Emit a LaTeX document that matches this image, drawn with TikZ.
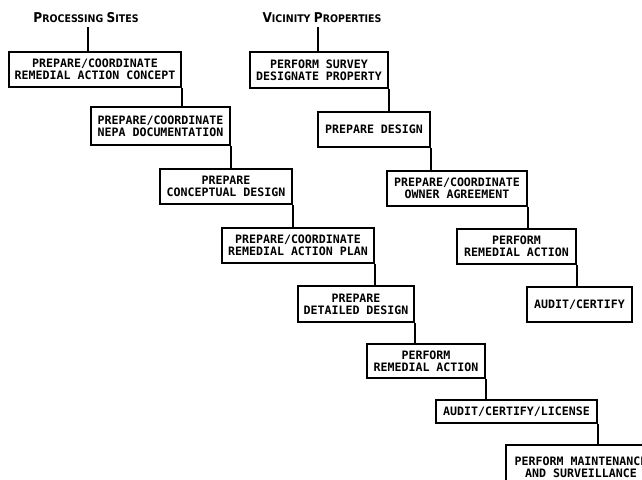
\documentclass[tikz,border=0pt]{standalone}
\usepackage{fontspec}
\setmainfont{DejaVu Sans Mono}
\newfontfamily\hdfont{DejaVu Sans Condensed}
\newcommand{\bigc}[1]{{\fontsize{13.5}{15}\selectfont #1}}
\begin{document}
\begin{tikzpicture}[x=1pt,y=-1pt,
  box/.style={draw,line width=1.5pt,rectangle,align=center,inner sep=0pt,
    font=\fontsize{11.6}{12}\selectfont\bfseries},
  hd/.style={font=\hdfont\bfseries\fontsize{10.5}{12}\selectfont,inner sep=1pt},
  conn/.style={line width=1.7pt}]
\useasboundingbox (0,0) rectangle (642,479);
\fill[white] (0,0) rectangle (642,479);
% headers
\node[hd] (h1) at (86,18) {\bigc{P}ROCESSING \bigc{S}ITES};
\node[hd] (h2) at (322,18) {\bigc{V}ICINITY \bigc{P}ROPERTIES};
% processing sites column
\node[box,minimum width=172,minimum height=35] (b1) at (95,69.5) {PREPARE/COORDINATE\\REMEDIAL ACTION CONCEPT};
\node[box,minimum width=139,minimum height=38] (b2) at (160.5,126) {PREPARE/COORDINATE\\NEPA DOCUMENTATION};
\node[box,minimum width=132,minimum height=35] (b3) at (226,186.5) {PREPARE\\CONCEPTUAL DESIGN};
\node[box,minimum width=152,minimum height=35] (b4) at (298,245.5) {PREPARE/COORDINATE\\REMEDIAL ACTION PLAN};
\node[box,minimum width=116,minimum height=36] (b5) at (356,304) {PREPARE\\DETAILED DESIGN};
\node[box,minimum width=118,minimum height=34] (b6) at (426,361) {PERFORM\\REMEDIAL ACTION};
\node[box,minimum width=161,minimum height=23] (b7) at (516.5,411.5) {AUDIT/CERTIFY/LICENSE};
\node[box,minimum width=150,minimum height=45] (b8) at (581,467.5) {PERFORM MAINTENANCE\\AND SURVEILLANCE};
% vicinity properties column
\node[box,minimum width=138,minimum height=36] (va) at (319,70) {PERFORM SURVEY\\DESIGNATE PROPERTY};
\node[box,minimum width=112,minimum height=35] (vb) at (374,129.5) {PREPARE DESIGN};
\node[box,minimum width=140,minimum height=35] (vc) at (457,188.5) {PREPARE/COORDINATE\\OWNER AGREEMENT};
\node[box,minimum width=119,minimum height=35] (vd) at (516.5,246.5) {PERFORM\\REMEDIAL ACTION};
\node[box,minimum width=105,minimum height=35] (ve) at (579.5,304.5) {AUDIT/CERTIFY};
% connectors
\coordinate (c1) at (88,27);
\coordinate (c2) at (318,27);
\draw[conn] (c1) -- (c1 |- b1.north);
\draw[conn] (c2) -- (c2 |- va.north);
\foreach \a/\b in {b1/b2,b2/b3,b3/b4,b4/b5,b5/b6,b6/b7,b7/b8,va/vb,vb/vc,vc/vd,vd/ve}{
  \draw[conn] (\a.south east) -- (\a.south east |- \b.north);
}
\end{tikzpicture}
\end{document}
